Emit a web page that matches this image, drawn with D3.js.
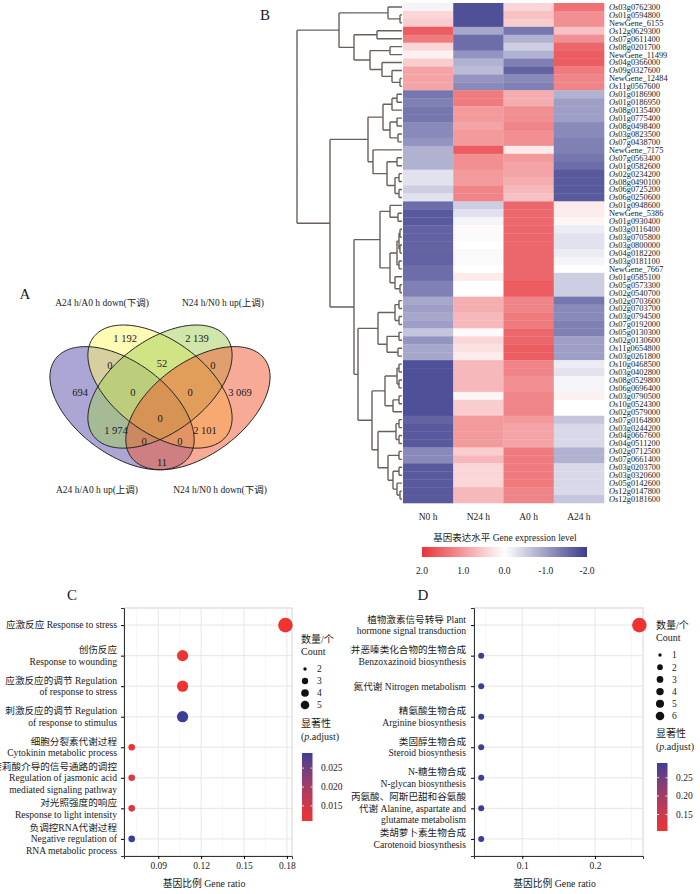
<!DOCTYPE html>
<html>
<head>
<meta charset="utf-8">
<script src="https://cdn.jsdelivr.net/npm/d3@7"></script>
<style>
  body { margin: 0; background: #fff; }
  svg { display: block; }
  text { font-family: "Liberation Serif", "Noto Sans CJK SC", serif; fill: #1a1a1a; }
</style>
</head>
<body>
<div id="vis-holder"></div>
<script>
// ---------------- data ----------------

// Venn (panel A)
const vennSets = ["A24 h/A0 h up(上调)", "A24 h/A0 h down(下调)", "N24 h/N0 h up(上调)", "N24 h/N0 h down(下调)"];
const vennCounts = ["1 192", "2 139", "0", "52", "0", "694", "0", "0", "3 069", "0", "1 974", "2 101", "0", "0", "11"];

// heatmap (panel B)
const samples = ["N0 h", "N24 h", "A0 h", "A24 h"];
const genes = [
  "Os03g0762300", "Os01g0594800", "NewGene_6155", "Os12g0629300", "Os07g0611400", "Os08g0201700",
  "NewGene_11499", "Os04g0366000", "Os09g0327600", "NewGene_12484", "Os11g0567600", "Os01g0186900",
  "Os01g0186950", "Os08g0135400", "Os01g0775400", "Os08g0498400", "Os03g0823500", "Os07g0438700",
  "NewGene_7175", "Os07g0563400", "Os01g0582600", "Os02g0234200", "Os08g0490100", "Os06g0725200",
  "Os06g0250600", "Os01g0948600", "NewGene_5386", "Os01g0930400", "Os03g0116400", "Os03g0705800",
  "Os03g0800000", "Os04g0182200", "Os03g0181100", "NewGene_7667", "Os01g0585100", "Os05g0573300",
  "Os02g0540700", "Os02g0703600", "Os02g0703700", "Os03g0794500", "Os07g0192000", "Os05g0130300",
  "Os02g0130600", "Os11g0654800", "Os03g0261800", "Os10g0468500", "Os03g0402800", "Os08g0529800",
  "Os06g0696400", "Os03g0790500", "Os10g0524300", "Os02g0579000", "Os07g0164800", "Os03g0244200",
  "Os04g0667600", "Os04g0511200", "Os02g0712500", "Os07g0661400", "Os03g0203700", "Os03g0320600",
  "Os05g0142600", "Os12g0147800", "Os12g0181600"
];
// z-scores per gene: N0, N24, A0, A24
const expr = [
  [-0.1, -1.8, 0.4, 1.4], [0.4, -1.8, 0.6, 1.1], [0.5, -1.8, 0.5, 1.1], [1.6, -0.9, -1.4, 0.6],
  [1.3, -1.5, -0.8, 1.1], [0.4, -1.5, -0.5, 1.5], [0.15, -1.1, -0.8, 1.6], [0.5, -0.8, -1.3, 1.6],
  [0.9, -0.7, -1.6, 1.3], [0.9, -1.1, -1.2, 1.2], [0.9, -1.2, -1.3, 1.2], [-1.4, 1.3, 0.8, -0.8],
  [-1.3, 1.3, 0.8, -1.0], [-1.4, 1.0, 1.1, -1.0], [-1.4, 1.0, 1.1, -1.0], [-1.2, 0.9, 1.2, -1.2],
  [-1.2, 1.0, 1.1, -1.2], [-1.1, 1.0, 1.1, -1.3], [-0.8, 1.6, 0.2, -1.3], [-0.8, 1.1, 1.0, -1.4],
  [-0.8, 1.1, 0.9, -1.5], [-0.3, 1.0, 0.9, -1.7], [-0.3, 1.0, 0.8, -1.7], [-0.5, 1.2, 0.7, -1.7],
  [-0.3, 1.2, 0.6, -1.7], [-1.5, -0.5, 1.5, 0.2], [-1.7, -0.3, 1.5, 0.2], [-1.7, -0.1, 1.5, 0.1],
  [-1.6, 0.05, 1.5, -0.2], [-1.6, -0.05, 1.5, -0.3], [-1.6, 0.0, 1.5, -0.3], [-1.6, -0.05, 1.5, -0.2],
  [-1.6, -0.05, 1.5, -0.1], [-1.5, 0.0, 1.5, 0.0], [-1.5, 0.2, 1.5, -0.5], [-1.3, 0.0, 1.6, -0.5],
  [-1.3, 0.0, 1.6, -0.5], [-0.9, 0.8, 1.2, -1.4], [-1.0, 0.8, 1.2, -1.2], [-0.9, 0.7, 1.3, -1.2],
  [-1.0, 0.7, 1.3, -1.3], [-0.6, 0.05, 1.5, -1.3], [-1.1, 0.4, 1.5, -1.0], [-0.9, 0.3, 1.6, -1.0],
  [-0.9, 0.2, 1.6, -1.0], [-1.8, 0.7, 1.2, -0.2], [-1.8, 0.7, 1.2, -0.3], [-1.8, 0.7, 1.1, -0.1],
  [-1.8, 0.7, 1.1, -0.1], [-1.8, 0.1, 1.2, 0.15], [-1.8, 0.5, 1.2, 0.0], [-1.8, 0.5, 1.2, 0.0],
  [-1.6, 1.0, 1.0, -0.6], [-1.7, 1.0, 0.9, -0.4], [-1.7, 1.0, 0.9, -0.4], [-1.7, 1.0, 0.9, -0.4],
  [-1.2, 0.5, 1.3, -0.8], [-1.2, 0.7, 1.3, -0.8], [-1.7, 0.4, 1.3, -0.4], [-1.7, 0.4, 1.3, -0.4],
  [-1.7, 0.4, 1.3, -0.4], [-1.7, 0.7, 1.2, -0.4], [-1.7, 0.7, 1.2, -0.6]
];
// row dendrogram: [height, left, right], leaves are row indices
const rowTree = [10.5,
  [6.3, [1.4, 0, [0.2, 1, 2]],
        [4.8, [2.5, 3, 4], [3.2, [1.2, 5, 6], [2.0, 7, [1.0, 8, [0.2, 9, 10]]]]]],
  [7.2,
    [3.4, [1.9, [1.0, [0.5, 11, 12], 13], [1.2, [0.5, 14, 15], [0.4, 16, 17]]],
          [2.9, 18, [1.5, [0.5, 19, 20], [0.7, [0.3, 21, 22], [0.3, 23, 24]]]]],
    [4.8,
      [2.2, [1.2, 25, [0.4, 26, 27]],
            [1.2, [0.5, [0.3, [0.2, 28, 29], [0.2, 30, 31]], [0.3, 32, 33]], [0.7, 34, [0.2, 35, 36]]]],
      [4.4,
        [2.4, [0.7, [0.3, 37, 38], [0.3, 39, 40]], [1.5, [0.3, 41, 42], [0.4, 43, 44]]],
        [3.0,
          [1.7, [0.5, [0.3, 45, 46], [0.3, 47, 48]], [0.9, [0.3, 49, 50], 51]],
          [2.4, [0.6, [0.3, 52, 53], [0.3, 54, 55]],
                [1.4, [0.3, 56, 57], [0.9, [0.3, 58, 59], [0.5, 60, [0.2, 61, 62]]]]]]]]]
];
const exprTicks = [2, 1, 0, -1, -2];

// GO enrichment (panel C)
const goC_terms = [
  "应激反应 Response to stress",
  "创伤反应\nResponse to wounding",
  "应激反应的调节 Regulation\nof response to stress",
  "刺激反应的调节 Regulation\nof response to stimulus",
  "细胞分裂素代谢过程\nCytokinin metabolic process",
  "茉莉酸介导的信号通路的调控\nRegulation of jasmonic acid\nmediated signaling pathway",
  "对光照强度的响应\nResponse to light intensity",
  "负调控RNA代谢过程\nNegative regulation of\nRNA metabolic process"
];
const goC_ratio = [0.179, 0.107, 0.107, 0.107, 0.0714, 0.0714, 0.0714, 0.0714];
const goC_count = [5, 3, 3, 3, 2, 2, 2, 2];
const goC_padj = [0.011, 0.011, 0.011, 0.029, 0.0112, 0.0135, 0.0135, 0.029];
const goC_xticks = [0.09, 0.12, 0.15, 0.18];
const goC_counts = [2, 3, 4, 5];
const goC_pticks = [0.025, 0.020, 0.015];

// KEGG enrichment (panel D)
const goD_terms = [
  "植物激素信号转导  Plant\nhormone signal transduction",
  "苯并恶嗪类化合物的生物合成\nBenzoxazinoid biosynthesis",
  "氮代谢  Nitrogen metabolism",
  "精氨酸生物合成\nArginine biosynthesis",
  "类固醇生物合成\nSteroid biosynthesis",
  "N-糖生物合成\nN-glycan biosynthesis",
  "丙氨酸、阿斯巴甜和谷氨酸\n代谢  Alanine, aspartate and\nglutamate metabolism",
  "类胡萝卜素生物合成\nCarotenoid biosynthesis"
];
const goD_ratio = [0.261, 0.0435, 0.0435, 0.0435, 0.0435, 0.0435, 0.0435, 0.0435];
const goD_count = [6, 1, 1, 1, 1, 1, 1, 1];
const goD_padj = [0.105, 0.29, 0.29, 0.29, 0.29, 0.29, 0.29, 0.29];
const goD_xticks = [0.1, 0.2];
const goD_counts = [1, 2, 3, 4, 5, 6];
const goD_pticks = [0.25, 0.20, 0.15];

// ---------------- svg ----------------
const width = 700, height = 894;
const svg = d3.select("#vis-holder").append("svg")
  .attr("width", width).attr("height", height)
  .attr("viewBox", [0, 0, width, height]);
svg.append("defs");

// plain hyphen for negatives, like the figure
const fmt = (f) => (d) => d3.format(f)(d).replace("\u2212", "-");

function panelLabel(t, x, y) {
  svg.append("text").attr("x", x).attr("y", y)
    .attr("font-size", 15).attr("text-anchor", "middle").text(t);
}

// ================= A: Venn =================
{
  panelLabel("A", 25, 299);
  const vx = d3.scaleLinear().domain([0, 1]).range([33.5, 286.5]);
  const vy = d3.scaleLinear().domain([0, 1]).range([509.7, 293.7]);
  const a = 0.35, b = 0.2;
  const shapes = [
    { cx: 0.35, cy: 0.47, rot: 135, fill: "#5a4eaa" },
    { cx: 0.5, cy: 0.57, rot: 135, fill: "#fff86a" },
    { cx: 0.5, cy: 0.57, rot: 45, fill: "#a2cd58" },
    { cx: 0.65, cy: 0.47, rot: 45, fill: "#f0582e" }
  ];
  const line = d3.line().x(p => vx(p[0])).y(p => vy(p[1])).curve(d3.curveLinearClosed);
  const ellPts = (s) => d3.range(0, 2 * Math.PI, Math.PI / 90).map(t => {
    const r = s.rot * Math.PI / 180;
    return [s.cx + a * Math.cos(t) * Math.cos(r) - b * Math.sin(t) * Math.sin(r),
            s.cy + a * Math.cos(t) * Math.sin(r) + b * Math.sin(t) * Math.cos(r)];
  });
  const gV = svg.append("g");
  gV.selectAll("path.fill").data(shapes).enter().append("path")
    .attr("class", "fill").attr("d", d => line(ellPts(d)))
    .attr("fill", d => d.fill).attr("fill-opacity", 0.5);
  gV.selectAll("path.edge").data(shapes).enter().append("path")
    .attr("class", "edge").attr("d", d => line(ellPts(d)))
    .attr("fill", "none").attr("stroke", "#222").attr("stroke-width", 1);

  // region label anchors in venn units
  const regionPos = [[0.362, 0.795], [0.646, 0.795], [0.302, 0.670], [0.508, 0.679], [0.709, 0.670],
    [0.184, 0.545], [0.393, 0.545], [0.619, 0.545], [0.816, 0.545], [0.5, 0.424],
    [0.326, 0.369], [0.678, 0.369], [0.437, 0.318], [0.579, 0.318], [0.508, 0.221]];
  gV.selectAll("text.num").data(vennCounts).enter().append("text")
    .attr("class", "num")
    .attr("x", (d, i) => vx(regionPos[i][0])).attr("y", (d, i) => vy(regionPos[i][1]))
    .attr("dy", "0.35em").attr("text-anchor", "middle").attr("font-size", 10.5)
    .text(d => d);

  const setPos = [[97, 493], [102, 306], [223, 306], [220, 493]];
  gV.selectAll("text.set").data(vennSets).enter().append("text")
    .attr("class", "set")
    .attr("x", (d, i) => setPos[i][0]).attr("y", (d, i) => setPos[i][1])
    .attr("text-anchor", "middle").attr("font-size", 9.5)
    .text(d => d);
}

// ================= B: heatmap =================
{
  panelLabel("B", 265, 20);
  const xCol = d3.scaleBand().domain(samples).range([403, 604]);
  const yRow = d3.scaleBand().domain(d3.range(genes.length)).range([3, 503]);
  const color = d3.scaleLinear().domain([-2, 0, 2])
    .range(["#3c3c8c", "#ffffff", "#e6343a"]).clamp(true);

  const gH = svg.append("g");
  expr.forEach((row, i) => {
    gH.selectAll(null).data(row).enter().append("rect")
      .attr("x", (d, j) => xCol(samples[j]))
      .attr("y", yRow(i))
      .attr("width", xCol.bandwidth() + 0.3)
      .attr("height", yRow.bandwidth() + 0.3)
      .attr("fill", d => color(d));
  });

  // gene labels with italic "Os"
  const lab = gH.selectAll("text.gene").data(genes).enter().append("text")
    .attr("class", "gene")
    .attr("x", 609).attr("y", (d, i) => yRow(i) + yRow.bandwidth() / 2)
    .attr("dy", "0.35em").attr("font-size", 8.4);
  lab.each(function (d) {
    const t = d3.select(this);
    if (d.startsWith("Os")) {
      t.append("tspan").attr("font-style", "italic").text("Os");
      t.append("tspan").text(d.slice(2));
    } else t.text(d);
  });

  // column labels
  gH.selectAll("text.col").data(samples).enter().append("text")
    .attr("class", "col")
    .attr("x", d => xCol(d) + xCol.bandwidth() / 2).attr("y", 520)
    .attr("text-anchor", "middle").attr("font-size", 9.5).text(d => d);

  // dendrogram
  const xTree = d3.scaleLinear().domain([0, 10.5]).range([402, 297]);
  function lay(n) {
    if (typeof n === "number") return { h: 0, y: yRow(n) + yRow.bandwidth() / 2 };
    const kids = [lay(n[1]), lay(n[2])];
    return { h: n[0], y: (kids[0].y + kids[1].y) / 2, kids };
  }
  const root = lay(rowTree);
  const segs = [];
  (function walk(n) {
    if (!n.kids) return;
    segs.push([xTree(n.h), n.kids[0].y, xTree(n.h), n.kids[1].y]);
    n.kids.forEach(k => { segs.push([xTree(n.h), k.y, xTree(k.h), k.y]); walk(k); });
  })(root);
  gH.append("path")
    .attr("d", segs.map(s => `M${s[0]},${s[1]}L${s[2]},${s[3]}`).join(""))
    .attr("fill", "none").attr("stroke", "#6a605b").attr("stroke-width", 1.4);

  // legend
  gH.append("text").attr("x", 505).attr("y", 541).attr("text-anchor", "middle")
    .attr("font-size", 9.5).text("基因表达水平  Gene expression level");
  const lx = d3.scaleLinear().domain([2, -2]).range([422, 587]);
  const grad = svg.select("defs").append("linearGradient").attr("id", "hmGrad");
  grad.selectAll("stop").data(exprTicks).enter().append("stop")
    .attr("offset", d => (lx(d) - 422) / 165).attr("stop-color", d => color(d));
  gH.append("rect").attr("x", 422).attr("y", 547).attr("width", 165).attr("height", 10)
    .attr("fill", "url(#hmGrad)");
  gH.selectAll("text.lt").data(exprTicks).enter().append("text")
    .attr("class", "lt").attr("x", d => lx(d)).attr("y", 574)
    .attr("text-anchor", "middle").attr("font-size", 9.5).text(fmt(".1f"));
}

// ================= C & D: dot plots =================
function dotPlot(opt) {
  const g = svg.append("g");
  if (opt.clipX) {
    svg.select("defs").append("clipPath").attr("id", "clip" + opt.id)
      .append("rect").attr("x", opt.clipX).attr("y", 580).attr("width", 700).attr("height", 314);
    g.attr("clip-path", `url(#clip${opt.id})`);
  }
  const x = d3.scaleLinear().domain(opt.xDomain).range([opt.left, opt.right]);
  const y = d3.scalePoint().domain(d3.range(opt.terms.length)).range([608, 856]).padding(0.56);
  const pExt = d3.extent(opt.padj);
  const col = d3.scaleSequential(d3.interpolateLab("#ee3330", "#3b3d96")).domain(pExt);
  const cExt = d3.extent(opt.legendCounts);
  const rNorm = c => Math.sqrt((c - cExt[0]) / (cExt[1] - cExt[0]));
  const rPlot = d3.scaleLinear().domain([0, 1]).range(opt.rPlot);
  const rKey = d3.scaleLinear().domain([0, 1]).range(opt.rKey);

  // panel + grid
  g.append("rect").attr("x", opt.left).attr("y", 608)
    .attr("width", opt.right - opt.left).attr("height", 248)
    .attr("fill", "#fff").attr("stroke", "#d4d4d4");
  g.selectAll("line.minor").data(opt.minor).enter().append("line")
    .attr("x1", d => x(d)).attr("x2", d => x(d)).attr("y1", 608).attr("y2", 856)
    .attr("stroke", "#f0f0f0").attr("stroke-width", 0.6);
  g.selectAll("line.vx").data(opt.xticks).enter().append("line")
    .attr("x1", d => x(d)).attr("x2", d => x(d)).attr("y1", 608).attr("y2", 856)
    .attr("stroke", "#e3e3e3").attr("stroke-width", 0.9);
  g.selectAll("line.hy").data(opt.terms).enter().append("line")
    .attr("x1", opt.left).attr("x2", opt.right)
    .attr("y1", (d, i) => y(i)).attr("y2", (d, i) => y(i))
    .attr("stroke", "#e3e3e3").attr("stroke-width", 0.9);

  // axes
  g.append("g").attr("transform", "translate(0,856)")
    .call(d3.axisBottom(x).tickValues(opt.xticks).tickSize(3).tickFormat(d3.format(opt.fmt)))
    .call(a => a.select(".domain").attr("stroke", "#333"))
    .call(a => a.selectAll("text").attr("font-size", 9.5).attr("fill", "#1a1a1a")
      .attr("font-family", "Liberation Serif"));
  g.append("g").attr("transform", `translate(${opt.left},0)`)
    .call(d3.axisLeft(y).tickSize(3).tickFormat(""))
    .call(a => a.select(".domain").attr("stroke", "#333"));

  // term labels
  const lines = g.selectAll("text.term").data(opt.terms).enter().append("text")
    .attr("class", "term").attr("text-anchor", "end").attr("font-size", 9.6);
  lines.each(function (d, i) {
    const parts = d.split("\n");
    const y0 = y(i) - (parts.length - 1) * 11.6 / 2;
    d3.select(this).selectAll("tspan").data(parts).enter().append("tspan")
      .attr("x", opt.labelX).attr("y", (p, k) => y0 + k * 11.6).attr("dy", "0.35em")
      .text(p => p);
  });

  // points
  g.selectAll("circle.pt").data(opt.terms).enter().append("circle")
    .attr("class", "pt")
    .attr("cx", (d, i) => x(opt.ratio[i])).attr("cy", (d, i) => y(i))
    .attr("r", (d, i) => rPlot(rNorm(opt.count[i])))
    .attr("fill", (d, i) => col(opt.padj[i]));

  // axis title
  g.append("text").attr("x", (opt.left + opt.right) / 2 - 4).attr("y", 887)
    .attr("text-anchor", "middle").attr("font-size", 9.8).text("基因比例  Gene ratio");

  // size legend
  const L = opt.legX;
  g.append("text").attr("x", L).attr("y", opt.legY).attr("font-size", 10).text("数量/个");
  g.append("text").attr("x", L).attr("y", opt.legY + 12).attr("font-size", 10).text("Count");
  g.selectAll("circle.key").data(opt.legendCounts).enter().append("circle")
    .attr("class", "key").attr("cx", L + 4).attr("cy", (d, i) => opt.legY + 26 + i * opt.keyStep)
    .attr("r", d => rKey(rNorm(d))).attr("fill", "#111");
  g.selectAll("text.key").data(opt.legendCounts).enter().append("text")
    .attr("class", "key").attr("x", L + 16).attr("y", (d, i) => opt.legY + 26 + i * opt.keyStep)
    .attr("dy", "0.35em").attr("font-size", 9.5).text(d => d);

  // colour legend
  const cy0 = opt.barY;
  g.append("text").attr("x", L).attr("y", cy0 - 26).attr("font-size", 10).text("显著性");
  const t2 = g.append("text").attr("x", L).attr("y", cy0 - 13).attr("font-size", 10);
  t2.append("tspan").text("(");
  t2.append("tspan").attr("font-style", "italic").text("p");
  t2.append("tspan").text(".adjust)");
  const by = d3.scaleLinear().domain(pExt).range([cy0 + 68, cy0]);
  const gid = "pg" + opt.id;
  const lg = svg.select("defs").append("linearGradient").attr("id", gid)
    .attr("x1", 0).attr("y1", 1).attr("x2", 0).attr("y2", 0);
  lg.selectAll("stop").data(d3.range(0, 1.01, 0.1)).enter().append("stop")
    .attr("offset", d => d).attr("stop-color", d => col(pExt[0] + d * (pExt[1] - pExt[0])));
  g.append("rect").attr("x", L + 1).attr("y", cy0).attr("width", 10.5).attr("height", 68)
    .attr("fill", `url(#${gid})`);
  g.selectAll("path.bt").data(opt.pticks).enter().append("path")
    .attr("class", "bt")
    .attr("d", d => `M${L + 1},${by(d)}h2M${L + 11.5},${by(d)}h-2`)
    .attr("stroke", "#fff").attr("stroke-width", 0.8);
  g.selectAll("text.bt").data(opt.pticks).enter().append("text")
    .attr("class", "bt").attr("x", L + 20).attr("y", d => by(d)).attr("dy", "0.35em")
    .attr("font-size", 9.5).text(d => d3.format(opt.pfmt)(d));
}

panelLabel("C", 72, 600);
dotPlot({
  id: "C", terms: goC_terms, ratio: goC_ratio, count: goC_count, padj: goC_padj,
  xDomain: [0.066, 0.1836], left: 124, right: 292, xticks: goC_xticks,
  minor: [0.075, 0.105, 0.135, 0.165], fmt: ".2f", labelX: 117,
  legendCounts: goC_counts, rPlot: [3.3, 7.3], rKey: [1.7, 4.3],
  legX: 301, legY: 643, keyStep: 12, barY: 753, pticks: goC_pticks, pfmt: ".3f"
});

panelLabel("D", 423, 600);
dotPlot({
  id: "D", terms: goD_terms, ratio: goD_ratio, count: goD_count, padj: goD_padj,
  xDomain: [0.0336, 0.266], left: 474, right: 643, xticks: goD_xticks,
  minor: [0.05, 0.15, 0.25], fmt: ".1f", labelX: 466, clipX: 350,
  legendCounts: goD_counts, rPlot: [3.0, 7.3], rKey: [1.7, 4.3],
  legX: 656, legY: 629, keyStep: 12.2, barY: 763, pticks: goD_pticks, pfmt: ".2f"
});
</script>
</body>
</html>
